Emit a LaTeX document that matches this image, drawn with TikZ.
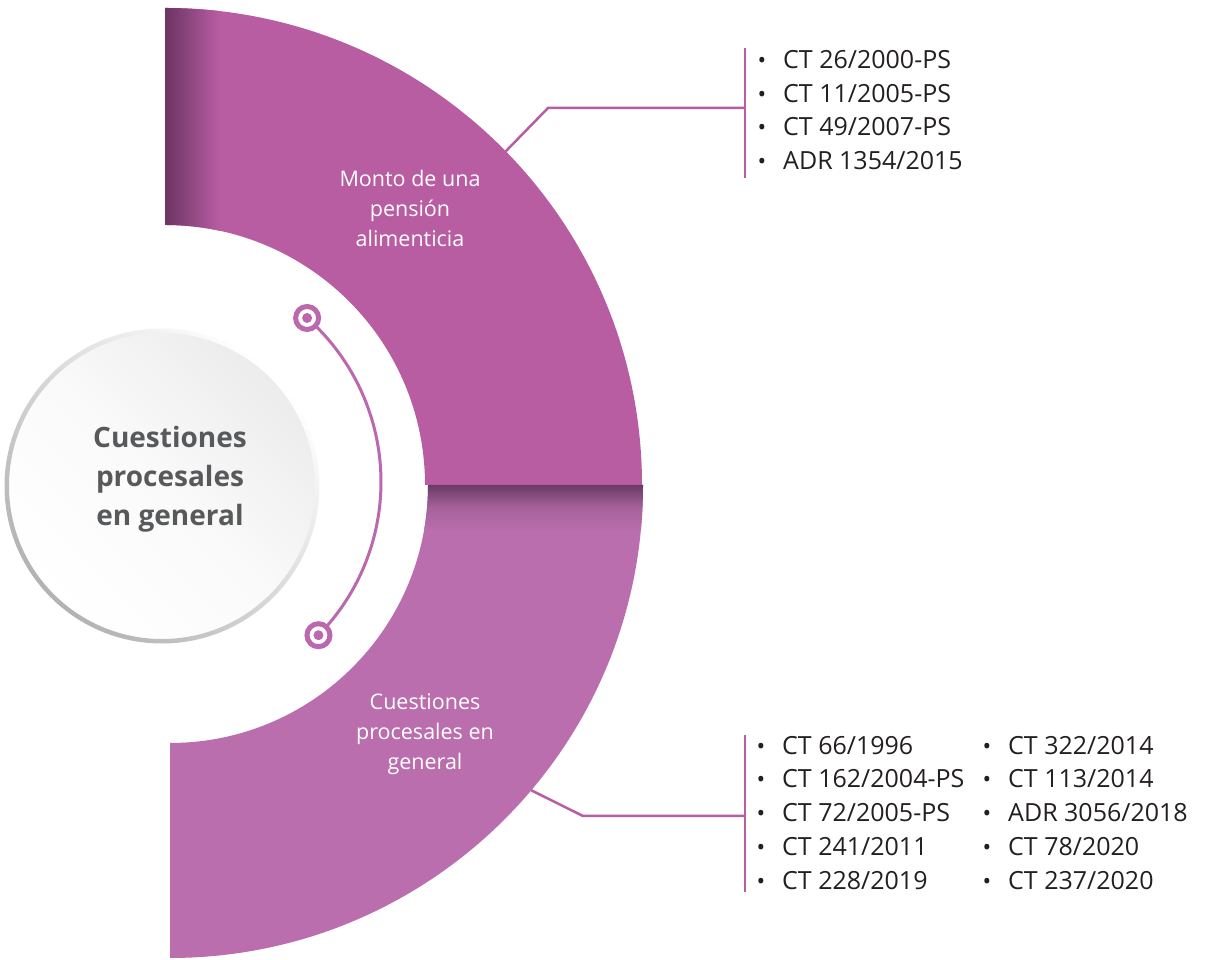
\documentclass[tikz,border=0pt]{standalone}
\usepackage{fontspec}
\setmainfont{Open Sans}
\definecolor{segA}{HTML}{B95DA3}
\definecolor{segB}{HTML}{BA6EAD}
\definecolor{segAdark}{HTML}{6C3563}
\definecolor{segBdark}{HTML}{6A3B66}
\definecolor{ringc}{HTML}{BB68AE}
\definecolor{txt}{HTML}{231F20}
\definecolor{ctxt}{HTML}{58595B}
\newcommand\secApath{(165,952) arc[start angle=90,end angle=0,radius=477] -- (425,475) arc[start angle=0,end angle=90,radius=260] -- cycle}
\newcommand\secBpath{(428,475) -- (643,475) arc[start angle=0,end angle=-90,radius=473] -- (170,217) arc[start angle=-90,end angle=0,radius=258] -- cycle}
\tikzset{
  conn/.style={draw=segA, line width=2.5pt},
  item/.style={anchor=base west, font=\fontsize{25}{30}\selectfont, text=txt, inner sep=0pt},
  bul/.style={anchor=base, font=\fontsize{23}{28}\selectfont, text=txt, inner sep=0pt},
  seglabel/.style={align=center, text=white, font=\fontsize{21.5}{30}\selectfont, inner sep=0pt},
  ringnode/.style={circle, draw=ringc, line width=5pt, fill=white, minimum size=23pt, inner sep=0pt},
  dotnode/.style={circle, fill=ringc, minimum size=10pt, inner sep=0pt},
}
\newcommand\li[4]{\node[bul] (#1b) at (#2-21,#3) {•}; \node[item] (#1) at (#2,#3) {#4};}
\begin{document}
\begin{tikzpicture}[x=1pt,y=1pt]
\useasboundingbox (0,0) rectangle (1205,960);
% sectors
\coordinate (cA) at (165,475);
\coordinate (cB) at (170,475);
\fill[segA] \secApath;
\begin{scope}
  \clip \secApath;
  \shade[left color=segAdark, right color=segA] (165,700) rectangle (220,960);
\end{scope}
\fill[segB] \secBpath;
\begin{scope}
  \clip \secBpath;
  \shade[top color=segBdark, bottom color=segB, middle color=segB!75!segBdark] (400,430) rectangle (660,475);
\end{scope}
% central circle
\coordinate (cC) at (162,474);
\shade[top color=gray!15, bottom color=white, middle color=white!96!gray, shading angle=-45] (cC) circle[radius=155];
\shade[even odd rule, top color=white, bottom color=gray!60, shading angle=-45] (cC) circle[radius=157.5] (cC) circle[radius=153];
\node[font=\fontsize{28}{39}\selectfont\bfseries, text=ctxt, align=center] (center) at (170,481) {Cuestiones\\procesales\\en general};
% thin arc with rings
\coordinate (cR) at (162,478);
\draw[ringc, line width=3pt] ([shift={(-44.4:219)}]cR) arc[start angle=-44.4, end angle=48.5, radius=219];
\node[ringnode] (ringA) at ([shift={(48.5:219)}]cR) {};
\node[dotnode] (ringAd) at (ringA) {};
\node[ringnode] (ringB) at ([shift={(-44.4:219)}]cR) {};
\node[dotnode] (ringBd) at (ringB) {};
% segment labels
\node[seglabel] (lblA) at (410,752) {Monto de una\\pensión\\alimenticia};
\node[seglabel] (lblB) at (425,226) {Cuestiones\\procesales en\\general};
% connectors
\coordinate (a0) at ([shift={(44.4:477)}]cA);
\coordinate (a1) at (548,852);
\coordinate (a2) at (745,852);
\coordinate (barAt) at (745,912);
\coordinate (barAb) at (745,782);
\draw[conn] (a0) -- (a1) -- (a2);
\draw[conn] (barAt) -- (barAb);
\coordinate (b0) at ([shift={(-40.2:473)}]cB);
\coordinate (b1) at (583,144);
\coordinate (b2) at (745,144);
\coordinate (barBt) at (745,225);
\coordinate (barBb) at (745,68);
\draw[conn] (b0) -- (b1) -- (b2);
\draw[conn] (barBt) -- (barBb);
% lists
\li{u1}{783}{891}{CT 26/2000-PS}
\li{u2}{783}{857}{CT 11/2005-PS}
\li{u3}{783}{824}{CT 49/2007-PS}
\li{u4}{783}{790}{ADR 1354/2015}
\li{l1}{782}{205}{CT 66/1996}
\li{l2}{782}{172}{CT 162/2004-PS}
\li{l3}{782}{138}{CT 72/2005-PS}
\li{l4}{782}{104}{CT 241/2011}
\li{l5}{782}{70}{CT 228/2019}
\li{r1}{1008}{205}{CT 322/2014}
\li{r2}{1008}{172}{CT 113/2014}
\li{r3}{1008}{138}{ADR 3056/2018}
\li{r4}{1008}{104}{CT 78/2020}
\li{r5}{1008}{70}{CT 237/2020}
\end{tikzpicture}
\end{document}
